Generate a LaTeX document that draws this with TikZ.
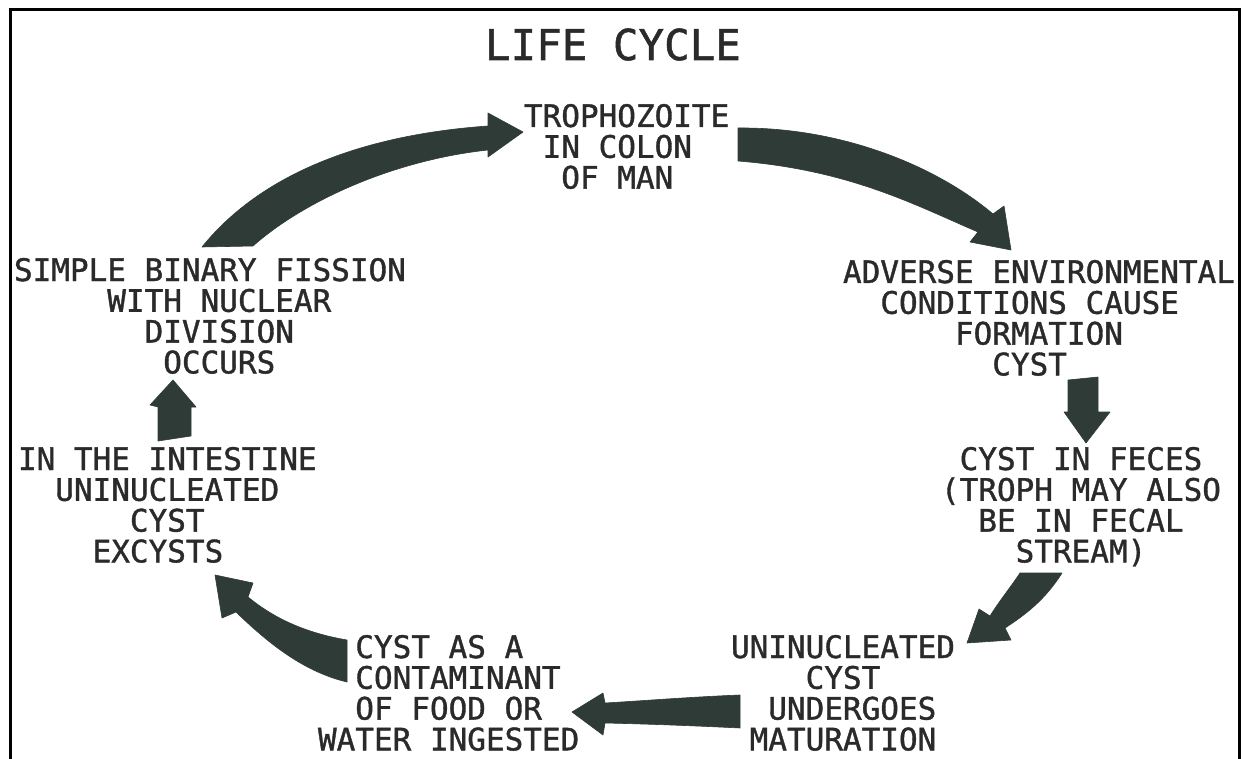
\documentclass[tikz,border=0pt]{standalone}
\usepackage{fontspec}
\newfontfamily\mono[FakeBold=1.2]{DejaVu Sans Mono}
\newdimen\cw
\cw=18.66pt
\newcommand\Lrow[2]{\hbox{\kern#1\cw\relax #2}}
\definecolor{arrowfill}{HTML}{2E3B37}
\definecolor{ink}{HTML}{2A2A2A}
\tikzset{
  blk/.style={anchor=base west, inner sep=0pt, outer sep=0pt, text=ink,
    font=\fontsize{31}{30.8}\selectfont\mono},
  ttl/.style={anchor=base west, inner sep=0pt, outer sep=0pt, text=ink,
    font=\fontsize{42.5}{50}\selectfont\mono},
  fatarrow/.style={fill=arrowfill, draw=arrowfill, line width=0.6pt, line join=round},
  frameline/.style={line width=3pt, draw=black}
}
\begin{document}
\begin{tikzpicture}[x=1pt, y=-1pt]
  \fill[white] (0,0) rectangle (1244,759);
  \useasboundingbox (0,0) rectangle (1244,759);
  % frame
  \draw[frameline] (10,759) -- (10,10) -- (1239,10) -- (1239,759);

  % texts
  \node[ttl] (title) at (485,60) {LIFE CYCLE};
  \node[blk] (troph) at (524,127) {\vtop{\Lrow{0}{TROPHOZOITE}\Lrow{1}{IN COLON}\Lrow{2}{OF MAN}}};
  \node[blk] (adverse) at (843,283) {\vtop{\Lrow{0}{ADVERSE ENVIRONMENTAL}\Lrow{2}{CONDITIONS CAUSE}\Lrow{6}{FORMATION}\Lrow{8}{CYST}}};
  \node[blk] (feces) at (941,470) {\vtop{\Lrow{1}{CYST IN FECES}\Lrow{0}{(TROPH MAY ALSO}\Lrow{2}{BE IN FECAL}\Lrow{4}{STREAM)}}};
  \node[blk] (matur) at (731,658) {\vtop{\Lrow{0}{UNINUCLEATED}\Lrow{4}{CYST}\Lrow{2}{UNDERGOES}\Lrow{1}{MATURATION}}};
  \node[blk] (ingest) at (318,658) {\vtop{\Lrow{2}{CYST AS A}\Lrow{2}{CONTAMINANT}\Lrow{2}{OF FOOD OR}\Lrow{0}{WATER INGESTED}}};
  \node[blk] (excyst) at (18,470) {\vtop{\Lrow{0}{IN THE INTESTINE}\Lrow{2}{UNINUCLEATED}\Lrow{6}{CYST}\Lrow{4}{EXCYSTS}}};
  \node[blk] (fission) at (14,281) {\vtop{\Lrow{0}{SIMPLE BINARY FISSION}\Lrow{5}{WITH NUCLEAR}\Lrow{7}{DIVISION}\Lrow{8}{OCCURS}}};

  % arrow: fission -> trophozoite (curved)
  \fill[fatarrow] (202,247) .. controls (260,175) and (360,135) .. (488,126)
    -- (488,113) -- (523,132) -- (488,157) -- (488,150)
    .. controls (395,160) and (305,200) .. (253,246) -- cycle;
  % arrow: trophozoite -> adverse (curved)
  \fill[fatarrow] (738,128) .. controls (840,127) and (935,165) .. (993,214)
    -- (1004,206) -- (1011,250) -- (970,242) -- (978,232)
    .. controls (915,205) and (850,170) .. (738,161) -- cycle;
  % arrow: adverse -> feces (down)
  \fill[fatarrow] (1068,380) -- (1098,377) -- (1098,412) -- (1110,412)
    -- (1086,443) -- (1064,412) -- (1068,412) -- cycle;
  % arrow: feces -> maturation (diagonal)
  \fill[fatarrow] (1020,573) -- (1062,573) .. controls (1045,600) and (1025,615) .. (1005,628)
    -- (1011,640) -- (967,643) -- (979,609) -- (990,616)
    .. controls (1000,600) and (1010,588) .. (1020,573) -- cycle;
  % arrow: maturation -> ingested (left)
  \fill[fatarrow] (740,695) .. controls (690,697) and (640,701) .. (605,703)
    -- (603,693) -- (572,712) -- (603,735) -- (605,723)
    .. controls (650,724) and (700,726) .. (740,728) -- cycle;
  % arrow: ingested -> excysts (curved up-left)
  \fill[fatarrow] (347,640) .. controls (300,632) and (270,615) .. (248,597)
    -- (253,583) -- (215,575) -- (222,618) -- (236,612)
    .. controls (270,645) and (305,672) .. (347,682) -- cycle;
  % arrow: excysts -> fission (up)
  \fill[fatarrow] (173,380) -- (196,407) -- (191,407) -- (191,436)
    -- (158,441) -- (158,407) -- (150,405) -- cycle;
\end{tikzpicture}
\end{document}
